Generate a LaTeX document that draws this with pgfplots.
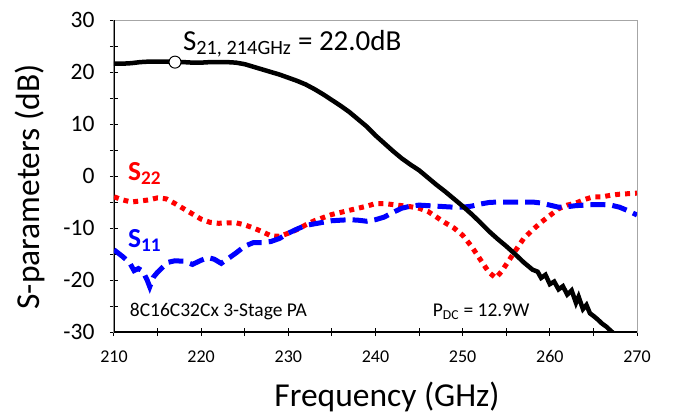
\documentclass[border=0pt]{standalone}
\usepackage{pgfplots}
\pgfplotsset{compat=1.18}
\usepackage{fontspec}
\setmainfont{Carlito}
\definecolor{sred}{RGB}{255,0,0}
\definecolor{sblue}{RGB}{0,0,255}
\begin{document}
\begin{tikzpicture}
\useasboundingbox (-114pt,-82pt) rectangle (562pt,332pt);
\begin{axis}[
  at={(0pt,0pt)}, anchor=south west,
  scale only axis, width=523pt, height=312pt,
  xmin=210, xmax=270, ymin=-30, ymax=30,
  xtick={210,220,...,270}, ytick={-30,-20,...,30},
  minor xtick={215,225,...,265}, minor ytick={-25,-15,...,25},
  xtick pos=bottom, ytick pos=left,
  tick align=center,
  major tick length=8pt, minor tick length=8pt,
  every tick/.style={black, line width=1pt},
  axis line style={draw=gray!70, line width=1pt},
  /pgf/number format/assume math mode=true,
  yticklabel style={font=\fontsize{23.5}{26}\selectfont, anchor=east, xshift=-12pt},
  xticklabel style={font=\fontsize{18}{21}\selectfont, yshift=-11pt},
  xlabel={Frequency (GHz)}, ylabel={S-parameters (dB)},
  xlabel style={font=\fontsize{33.5}{38}\selectfont, at={(axis description cs:0.522,-0.208)}, anchor=center},
  ylabel style={font=\fontsize{33.5}{38}\selectfont, at={(axis description cs:-0.161,0.465)}, anchor=center, rotate=0},
]
\draw[black, line width=1.6pt] (rel axis cs:0,1) -- (rel axis cs:0,0) -- (rel axis cs:1,0);
% S22
\addplot[sred, line width=5pt, dash pattern=on 5pt off 5pt] coordinates {
(210,-4.0)(211,-4.6)(212,-5.0)(213,-4.8)(214,-4.6)(215,-4.2)(216,-4.4)(217,-5.3)(218,-6.3)(219,-7.3)(220,-8.3)(221,-8.9)(222,-9.1)(223,-9.0)(224,-9.0)(225,-9.4)(226,-10.0)(227,-10.7)(228,-11.5)(229,-11.6)(230,-11.0)(231,-10.3)(232,-9.4)(233,-8.6)(234,-8.0)(235,-7.4)(236,-7.0)(237,-6.6)(238,-6.2)(239,-5.8)(240,-5.3)(241,-5.3)(242,-5.5)(243,-5.7)(244,-5.9)(245,-6.2)(246,-6.8)(247,-7.9)(248,-9.0)(249,-10.0)(250,-11.4)(251,-13.5)(252,-16.0)(253,-18.5)(253.8,-19.6)(254.5,-18.3)(255,-17.0)(256,-14.5)(257,-12.0)(258,-10.4)(259,-8.9)(260,-7.6)(261,-6.3)(262,-5.6)(263,-5.2)(264,-4.5)(265,-4.0)(266,-4.0)(267,-3.7)(268,-3.5)(269,-3.4)(270,-3.3)};
% S11
\addplot[sblue, line width=5pt, dash pattern=on 15pt off 7pt] coordinates {
(210,-14.2)(211,-15.5)(211.8,-16.7)(212.3,-18.2)(212.8,-17.8)(213.3,-18.3)(213.8,-20.0)(214.1,-21.3)(214.5,-19.5)(215,-18.5)(215.6,-17.5)(216.2,-16.6)(217,-16.3)(218,-16.4)(219,-17.0)(220,-16.2)(220.8,-15.7)(221.5,-16.0)(222.3,-16.8)(223,-16.0)(224,-14.8)(225,-13.5)(226,-12.8)(227,-12.8)(228,-12.6)(229,-12.0)(230,-11.0)(231,-10.2)(232,-9.5)(233,-9.2)(234,-8.9)(235,-8.6)(236,-8.5)(237,-8.4)(238,-8.5)(239,-8.7)(240,-8.4)(241,-7.9)(242,-7.0)(243,-6.2)(244,-5.8)(245,-5.6)(246,-5.7)(247,-5.8)(248,-5.9)(249,-6.0)(250,-6.0)(251,-5.8)(252,-5.4)(253,-5.1)(254,-5.0)(255,-5.0)(256,-5.0)(257,-5.0)(258,-5.0)(259,-5.2)(260,-5.6)(261,-6.0)(262,-5.9)(263,-5.7)(264,-5.6)(265,-5.5)(266,-5.5)(267,-5.6)(268,-6.0)(269,-6.7)(270,-7.5)};
% S21
\addplot[black, line width=4.5pt] coordinates {
(210,21.6)(211,21.6)(212,21.7)(213,21.9)(214,22.0)(215,22.0)(216,22.0)(217,21.9)(218,21.9)(219,21.8)(220,21.8)(221,21.9)(222,21.9)(223,21.9)(224,21.8)(225,21.5)(226,21.0)(227,20.5)(228,20.0)(229,19.5)(230,18.9)(231,18.3)(232,17.6)(233,16.7)(234,15.7)(235,14.6)(236,13.5)(237,12.3)(238,10.9)(239,9.5)(240,7.8)(241,6.3)(242,4.8)(243,3.4)(244,2.2)(245,1.1)(246,-0.3)(247,-1.7)(248,-3.0)(249,-4.4)(250,-5.8)(251,-7.3)(252,-8.9)(253,-10.6)(254,-12.1)(255,-13.5)(256,-15.0)(257,-16.6)(258,-18.0)(258.6,-18.4)(259,-19.6)(259.5,-19.0)(260,-20.8)(260.5,-20.3)(261,-21.8)(261.5,-21.2)(262,-22.8)(262.5,-22.0)(263,-24.4)(263.3,-23.2)(263.8,-25.6)(264.2,-24.8)(264.6,-26.4)(265,-26.9)(265.5,-27.6)(266,-28.4)(266.5,-29.0)(267,-29.8)(267.5,-30.5)};
\addplot[only marks, mark=*, mark size=6pt, mark options={fill=white, draw=black, line width=1pt}] coordinates {(217,21.9)};
\node[anchor=base west, inner sep=0pt, font=\fontsize{29}{32}\selectfont] at (axis cs:217.9,24.2) {S\textsubscript{21, 214GHz} = 22.0dB};
\node[anchor=base west, inner sep=0pt, text=sred, font=\bfseries\fontsize{27.5}{30}\selectfont] at (axis cs:211.6,-0.8) {S\textsubscript{22}};
\node[anchor=base west, inner sep=0pt, text=sblue, font=\bfseries\fontsize{27.5}{30}\selectfont] at (axis cs:211.6,-13.8) {S\textsubscript{11}};
\node[anchor=base west, inner sep=0pt, font=\fontsize{19.5}{22}\selectfont] at (axis cs:211.8,-27.06) {8C16C32Cx 3-Stage PA};
\node[anchor=base west, inner sep=0pt, font=\fontsize{19.5}{22}\selectfont] at (axis cs:246.56,-27.06) {P\textsubscript{DC} = 12.9W};
\end{axis}
\end{tikzpicture}
\end{document}
